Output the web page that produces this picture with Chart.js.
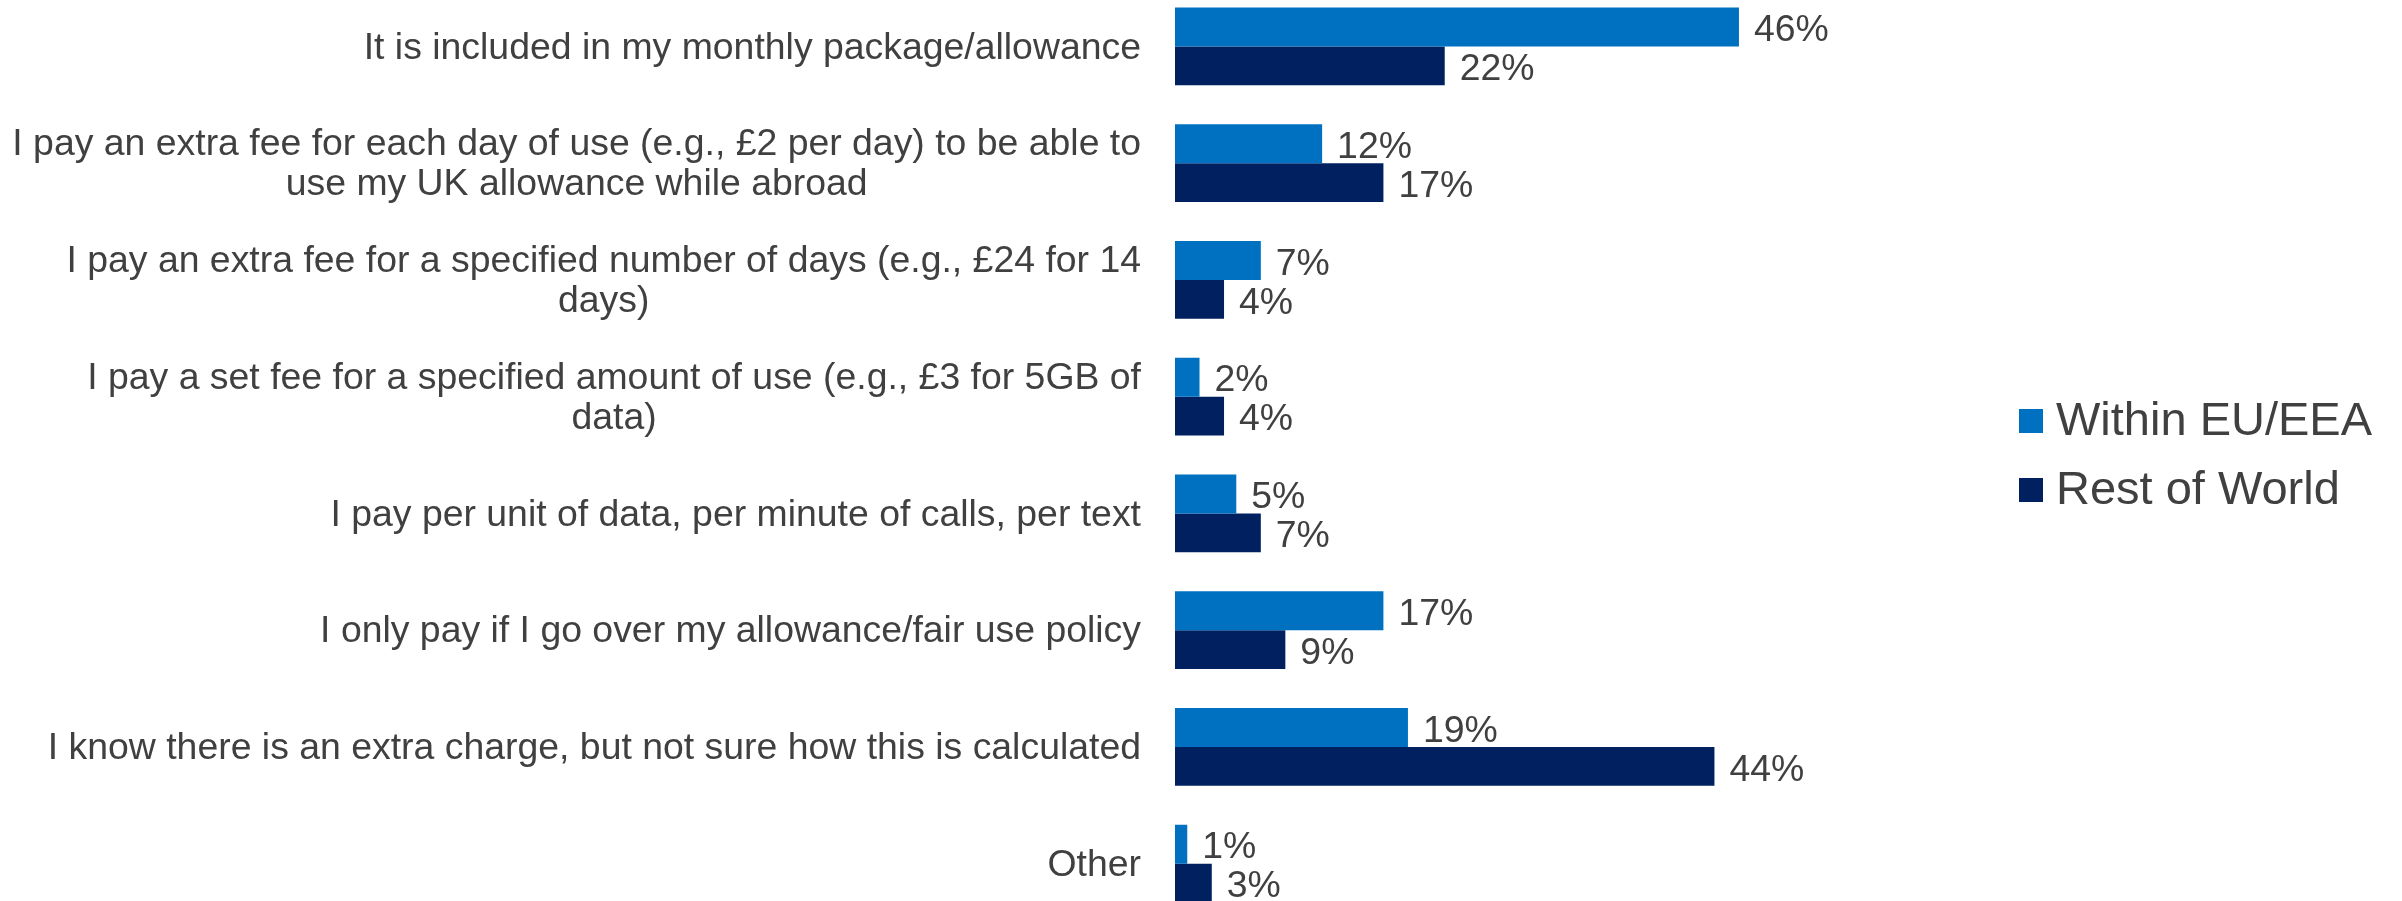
<!DOCTYPE html>
<html>
<head>
<meta charset="utf-8">
<script src="https://cdn.jsdelivr.net/npm/chart.js@4.4.1/dist/chart.umd.min.js"></script>
<style>
  html, body { margin: 0; padding: 0; background: #fff; }
  #wrap { position: relative; width: 2402px; height: 901px; overflow: hidden; }
  #roamingChart { position: absolute; left: 0; top: -12px; }
</style>
</head>
<body>
<div id="wrap">
  <canvas id="roamingChart" width="2402" height="934"></canvas>
</div>
<script>
// kategori (label dengan baris terpisah)
const categories = [
    ['It is included in my monthly package/allowance'],
    ['I pay an extra fee for each day of use (e.g., £2 per day) to be able to', 'use my UK allowance while abroad'],
    ['I pay an extra fee for a specified number of days (e.g., £24 for 14', 'days)'],
    ['I pay a set fee for a specified amount of use (e.g., £3 for 5GB of', 'data)'],
    ['I pay per unit of data, per minute of calls, per text'],
    ['I only pay if I go over my allowance/fair use policy'],
    ['I know there is an extra charge, but not sure how this is calculated'],
    ['Other']
];

const seriesNames = ['Within EU/EEA', 'Rest of World'];
const withinEU = [46, 12, 7, 2, 5, 17, 19, 1];
const restOfWorld = [22, 17, 4, 4, 7, 9, 44, 3];

const colors = ['#0070C0', '#002060'];
const textColor = '#404040';
const fontFamily = '"Liberation Sans", Arial, sans-serif';

// Plugin untuk label kategori, label nilai dan legenda
const customText = {
    id: 'customText',
    afterDatasetsDraw(chart) {
        const ctx = chart.ctx;
        const area = chart.chartArea;
        const yScale = chart.scales.y;
        ctx.save();
        ctx.fillStyle = textColor;

        // label kategori: blok rata kanan, baris di tengah
        ctx.font = '37.4px ' + fontFamily;
        ctx.textBaseline = 'middle';
        ctx.textAlign = 'center';
        const lineH = 40;
        categories.forEach((lines, i) => {
            const cy = yScale.getPixelForValue(i);
            const w = Math.max(...lines.map(l => ctx.measureText(l).width));
            const cx = area.left - 34 - w / 2;
            const y0 = cy - (lines.length - 1) * lineH / 2;
            lines.forEach((l, j) => ctx.fillText(l, cx, y0 + j * lineH + 2));
        });

        // label nilai di ujung batang
        ctx.textAlign = 'left';
        chart.data.datasets.forEach((ds, di) => {
            const meta = chart.getDatasetMeta(di);
            meta.data.forEach((bar, i) => {
                ctx.fillText(ds.data[i] + '%', bar.x + 15, bar.y + 4);
            });
        });

        // legenda
        ctx.font = '47px ' + fontFamily;
        const legendY = [433, 502];
        seriesNames.forEach((name, i) => {
            ctx.fillStyle = colors[i];
            ctx.fillRect(2019, legendY[i] - 12, 24, 24);
            ctx.fillStyle = textColor;
            ctx.fillText(name, 2056, legendY[i] + 1);
        });
        ctx.restore();
    }
};

new Chart(document.getElementById('roamingChart').getContext('2d'), {
    type: 'bar',
    data: {
        labels: categories,
        datasets: [{
            label: seriesNames[0],
            data: withinEU,
            backgroundColor: colors[0],
            categoryPercentage: 0.667,
            barPercentage: 1
        }, {
            label: seriesNames[1],
            data: restOfWorld,
            backgroundColor: colors[1],
            categoryPercentage: 0.667,
            barPercentage: 1
        }]
    },
    options: {
        indexAxis: 'y',
        responsive: false,
        devicePixelRatio: 1,
        animation: false,
        layout: {
            padding: { left: 1175, right: 2402 - 1175 - 60 * 12.26, top: 0, bottom: 0 }
        },
        plugins: {
            legend: { display: false },
            tooltip: { enabled: false }
        },
        scales: {
            x: { display: false, min: 0, max: 60 },
            y: { display: false }
        }
    },
    plugins: [customText]
});
</script>
</body>
</html>
